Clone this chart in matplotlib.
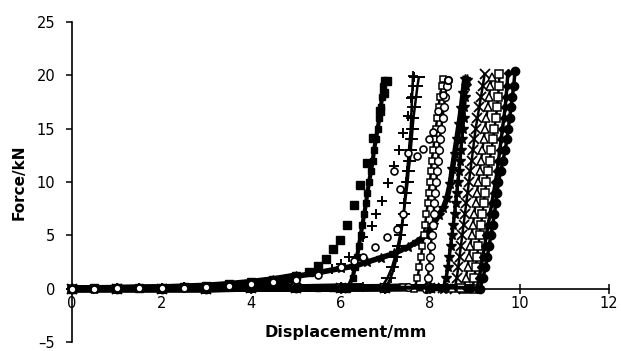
import matplotlib
matplotlib.use("Agg")
import matplotlib.pyplot as plt

# ---------------- data ----------------
x_ticks = [0, 2, 4, 6, 8, 10, 12]
y_ticks = [-5, 0, 5, 10, 15, 20, 25]

# common force levels (kN) used to read the steep parts of the dense curves
force_steps = [0, 1, 2, 3, 4, 5, 6, 7, 8, 9, 10, 11, 12, 13, 14, 15, 16, 17, 18, 19]

# sparse filled squares
sq_toe_x = [0, 0.5, 1, 1.5, 2, 2.5, 3, 3.5, 4, 4.5, 5]
sq_toe_y = [0, 0.02, 0.04, 0.07, 0.1, 0.17, 0.25, 0.4, 0.6, 0.85, 1.2]
sq_rise_x = [5.3, 5.5, 5.68, 5.84, 5.99, 6.14, 6.3, 6.44, 6.59, 6.73, 6.88, 6.98, 7.04]
sq_rise_y = [1.6, 2.1, 2.8, 3.7, 4.6, 6.0, 7.8, 9.7, 11.8, 14.1, 16.7, 18.3, 19.5]

# sparse plus
pl_toe_x = [0, 0.5, 1, 1.5, 2, 2.5, 3, 3.5, 4, 4.5, 5]
pl_toe_y = [0, 0.01, 0.02, 0.04, 0.07, 0.12, 0.2, 0.32, 0.5, 0.72, 1.0]
pl_rise_x = [5.5, 5.8, 6.0, 6.2, 6.5, 6.7, 6.8, 6.93, 7.06, 7.2, 7.3, 7.4, 7.5, 7.58, 7.65]
pl_rise_y = [1.4, 1.8, 2.3, 3.0, 4.8, 5.9, 7.0, 8.2, 9.9, 11.5, 13.0, 14.6, 16.2, 17.9, 19.8]

# sparse open circles
ci_toe_x = [0, 0.5, 1, 1.5, 2, 2.5, 3, 3.5, 4, 4.5, 5]
ci_toe_y = [0, 0.01, 0.02, 0.03, 0.05, 0.09, 0.15, 0.25, 0.4, 0.6, 0.85]
ci_rise_x = [5.5, 6.0, 6.3, 6.5, 6.77, 7.04, 7.26, 7.4, 7.33, 7.2, 7.5, 7.7, 7.85, 7.98, 8.07, 8.18, 8.3, 8.4]
ci_rise_y = [1.3, 2.0, 2.6, 3.0, 3.9, 4.8, 5.6, 7.0, 9.3, 11.0, 12.7, 12.4, 13.1, 14.0, 14.7, 16.7, 18.2, 19.6]

# slow diagonal curve (asterisks)
as_toe_x = [0, 0.5, 1, 1.5, 2, 2.5, 3, 3.5, 4, 4.5, 5]
as_toe_y = [0, 0.01, 0.02, 0.04, 0.07, 0.12, 0.2, 0.33, 0.52, 0.8, 1.15]
as_rise_x = [5.5, 6.0, 6.3, 6.6, 6.9, 7.2, 7.5, 7.7, 7.9, 8.07, 8.2, 8.3, 8.38, 8.45, 8.5, 8.55, 8.6, 8.65, 8.7, 8.74, 8.78]
as_rise_y = [1.5, 1.9, 2.1, 2.5, 2.9, 3.3, 3.9, 4.4, 5.0, 6.0, 6.9, 7.6, 8.5, 9.8, 11.2, 12.6, 14.0, 15.4, 16.9, 18.3, 19.7]

# dense curves: toe, displacement at force_steps, peak point
sqd_toe_x = [0, 1, 2, 3, 4, 5, 5.5, 5.8, 6.0]
sqd_toe_y = [0, 0, 0, 0, 0.05, 0.1, 0.1, 0.1, 0.1]
sqd_rise_x = [6.15, 6.27, 6.32, 6.37, 6.41, 6.45, 6.49, 6.53, 6.57, 6.6, 6.64, 6.68, 6.72, 6.75, 6.79, 6.83, 6.87, 6.9, 6.93, 6.96]
sqd_peak = [6.98, 19.6]

da_toe_x = [0, 1, 2, 3, 4, 5, 6, 6.5]
da_toe_y = [0, 0, 0, 0, 0.05, 0.1, 0.15, 0.2]
da_rise_x = [6.9, 7.05, 7.15, 7.22, 7.28, 7.33, 7.37, 7.41, 7.44, 7.47, 7.5, 7.52, 7.55, 7.57, 7.59, 7.61, 7.63, 7.66, 7.69, 7.72]
da_peak = [7.75, 19.8]

pd_toe_x = [0, 1, 2, 3, 4, 5, 6, 6.5]
pd_toe_y = [0, 0, 0, 0, 0.05, 0.1, 0.15, 0.2]
pd_rise_x = [7.0, 7.12, 7.2, 7.26, 7.31, 7.35, 7.38, 7.41, 7.43, 7.45, 7.47, 7.49, 7.51, 7.53, 7.55, 7.57, 7.58, 7.59, 7.6, 7.61]
pd_peak = [7.62, 19.9]

cd_toe_x = [0, 1, 2, 3, 4, 5, 6, 7, 7.5]
cd_toe_y = [0, 0, 0, 0, 0.03, 0.06, 0.1, 0.12, 0.15]
cd_rise_x = [7.9, 7.95, 7.98, 8.0, 8.02, 8.04, 8.06, 8.08, 8.1, 8.12, 8.14, 8.16, 8.18, 8.2, 8.22, 8.25, 8.28, 8.31, 8.34, 8.37]
cd_peak = [8.4, 19.6]

os_toe_x = [0, 1, 2, 3, 4, 5, 6, 7, 7.4]
os_toe_y = [0, 0, 0, 0, 0.03, 0.06, 0.1, 0.12, 0.15]
os_rise_x = [7.65, 7.72, 7.76, 7.8, 7.83, 7.86, 7.89, 7.92, 7.95, 7.97, 8.0, 8.02, 8.04, 8.07, 8.1, 8.13, 8.16, 8.19, 8.22, 8.26]
os_peak = [8.3, 19.7]

ad_toe_x = [0, 1, 2, 3, 4, 5, 6, 7, 8]
ad_toe_y = [0, 0, 0, 0, 0.02, 0.05, 0.08, 0.1, 0.12]
ad_rise_x = [8.3, 8.36, 8.4, 8.43, 8.46, 8.49, 8.52, 8.55, 8.57, 8.6, 8.62, 8.65, 8.67, 8.69, 8.71, 8.73, 8.75, 8.77, 8.79, 8.81]
ad_peak = [8.83, 19.6]

xd_toe_x = [0, 1, 2, 3, 4, 5, 6, 7, 8, 8.3]
xd_toe_y = [0, 0, 0, 0, 0.02, 0.04, 0.06, 0.08, 0.1, 0.1]
xd_rise_x = [8.55, 8.6, 8.63, 8.66, 8.69, 8.72, 8.75, 8.78, 8.81, 8.84, 8.87, 8.9, 8.93, 8.96, 8.99, 9.02, 9.06, 9.1, 9.14, 9.18]
xd_peak = [9.22, 20.1]

tr_toe_x = [0, 1, 2, 3, 4, 5, 6, 7, 8, 8.5]
tr_toe_y = [0, 0, 0, 0, 0.02, 0.04, 0.06, 0.08, 0.1, 0.1]
tr_rise_x = [8.75, 8.8, 8.84, 8.87, 8.9, 8.93, 8.96, 8.99, 9.02, 9.05, 9.08, 9.11, 9.14, 9.17, 9.2, 9.23, 9.26, 9.29, 9.32, 9.35]
tr_peak = [9.38, 19.8]

oq_toe_x = [0, 1, 2, 3, 4, 5, 6, 7, 8, 8.7]
oq_toe_y = [0, 0, 0, 0, 0.02, 0.04, 0.06, 0.08, 0.1, 0.1]
oq_rise_x = [8.95, 8.99, 9.02, 9.05, 9.08, 9.11, 9.14, 9.17, 9.2, 9.23, 9.26, 9.29, 9.33, 9.37, 9.41, 9.44, 9.47, 9.5, 9.52, 9.54]
oq_peak = [9.55, 20.1]

dm_toe_x = [0, 1, 2, 3, 4, 5, 6, 7, 8, 8.8]
dm_toe_y = [0, 0, 0, 0, 0.02, 0.04, 0.06, 0.08, 0.1, 0.1]
dm_rise_x = [9.05, 9.1, 9.14, 9.18, 9.22, 9.26, 9.3, 9.34, 9.38, 9.42, 9.46, 9.5, 9.53, 9.56, 9.59, 9.62, 9.65, 9.68, 9.7, 9.72]
dm_peak = [9.74, 20.2]

fc_toe_x = [0, 1, 2, 3, 4, 5, 6, 7, 8, 8.9]
fc_toe_y = [0, 0, 0, 0, 0.02, 0.04, 0.06, 0.08, 0.1, 0.1]
fc_rise_x = [9.12, 9.18, 9.24, 9.28, 9.32, 9.36, 9.4, 9.44, 9.47, 9.5, 9.53, 9.58, 9.63, 9.68, 9.72, 9.75, 9.78, 9.81, 9.84, 9.87]
fc_peak = [9.9, 20.4]

# ---------------- figure ----------------
plt.rcParams['font.family'] = ['DejaVu Sans']
fig = plt.figure(figsize=(6.21, 3.51), dpi=100)
ax = fig.add_axes([72 / 621, 9 / 351, 537 / 621, 320 / 351])

K = 'black'


def toe(tx, ty):
    ax.plot(tx, ty, '-', color=K, lw=5, solid_capstyle='butt', clip_on=False, zorder=2)


sparse = [
    (sq_toe_x, sq_toe_y, sq_rise_x, sq_rise_y, dict(marker='s', ms=5.5, mfc=K)),
    (pl_toe_x, pl_toe_y, pl_rise_x, pl_rise_y, dict(marker='+', ms=7, mew=1.4)),
    (ci_toe_x, ci_toe_y, ci_rise_x, ci_rise_y, dict(marker='o', ms=5, mfc='white', mew=1.2)),
]
for tx, ty, rx, ry, st in sparse:
    toe(tx, ty)
    ax.plot(tx + rx, ty + ry, linestyle='none', color=K, clip_on=False, zorder=4, **st)

# slow diagonal band
toe(as_toe_x, as_toe_y)
ax.plot(as_toe_x + as_rise_x, as_toe_y + as_rise_y, '-', color=K, lw=4, marker='*', ms=7,
        clip_on=False, zorder=3)

dense = [
    (sqd_toe_x, sqd_toe_y, sqd_rise_x, sqd_peak, dict(marker='s', ms=5, mfc=K), 3.0),
    (da_toe_x, da_toe_y, da_rise_x, da_peak, dict(marker='_', ms=8, mew=1.4), 1.8),
    (pd_toe_x, pd_toe_y, pd_rise_x, pd_peak, dict(marker='+', ms=6.5, mew=1.3), 1.8),
    (os_toe_x, os_toe_y, os_rise_x, os_peak, dict(marker='s', ms=5, mfc='white', mew=1.1), 1.8),
    (cd_toe_x, cd_toe_y, cd_rise_x, cd_peak, dict(marker='o', ms=5.5, mfc='white', mew=1.1), 1.8),
    (ad_toe_x, ad_toe_y, ad_rise_x, ad_peak, dict(marker='*', ms=8), 2.5),
    (xd_toe_x, xd_toe_y, xd_rise_x, xd_peak, dict(marker='x', ms=6.5, mew=1.3), 1.8),
    (tr_toe_x, tr_toe_y, tr_rise_x, tr_peak, dict(marker='^', ms=5.5, mfc='white', mew=1.1), 1.8),
    (oq_toe_x, oq_toe_y, oq_rise_x, oq_peak, dict(marker='s', ms=5.5, mfc='white', mew=1.1), 1.8),
    (dm_toe_x, dm_toe_y, dm_rise_x, dm_peak, dict(marker='D', ms=4.5, mfc=K), 2.5),
    (fc_toe_x, fc_toe_y, fc_rise_x, fc_peak, dict(marker='o', ms=6, mfc=K), 2.5),
]
for tx, ty, rx, pk, st, lw in dense:
    toe(tx, ty)
    xs = tx + rx + [pk[0]]
    ys = ty + force_steps + [pk[1]]
    ax.plot(xs, ys, '-', color=K, lw=lw, clip_on=False, zorder=3, **st)

# ---------------- axes styling ----------------
ax.set_xlim(0, 12)
ax.set_ylim(-5, 25)
ax.set_xticks(x_ticks)
ax.set_yticks(y_ticks)
ax.set_xticklabels([str(v) for v in x_ticks])
ax.set_yticklabels(['\u2013' + str(-v) if v < 0 else str(v) for v in y_ticks])
for s in ('top', 'right'):
    ax.spines[s].set_visible(False)
ax.spines['bottom'].set_position(('data', 0))
ax.spines['left'].set_linewidth(1.2)
ax.spines['bottom'].set_linewidth(1.2)
ax.tick_params(axis='y', direction='out', length=4, width=1.1, pad=8, labelsize=10.5)
ax.tick_params(axis='x', direction='inout', length=7, width=1.1, pad=2, labelsize=10.5)
ax.patch.set_alpha(0)

fig.text(19 / 621, 1 - 182 / 351, 'Force/kN', rotation=90, ha='center', va='center',
         fontsize=11, fontweight='bold')
fig.text(346 / 621, 1 - 333 / 351, 'Displacement/mm', ha='center', va='center',
         fontsize=11.5, fontweight='bold')

fig.savefig('out.png', dpi=100)
